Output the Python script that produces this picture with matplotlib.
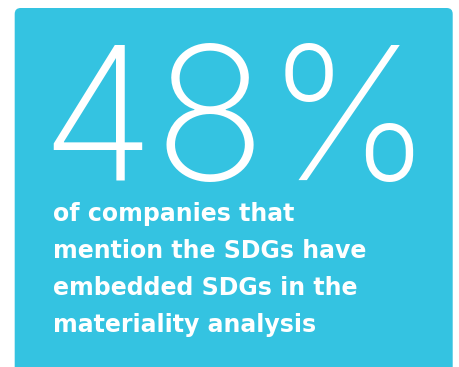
import matplotlib
matplotlib.use("Agg")
import matplotlib.pyplot as plt
from matplotlib.patches import FancyBboxPatch

value_text = "48%"
caption_lines = ["of companies that", "mention the SDGs have",
                 "embedded SDGs in the", "materiality analysis"]

W, H = 459, 367
fig = plt.figure(figsize=(W/100, H/100), dpi=100)
ax = fig.add_axes([0, 0, 1, 1])
ax.set_xlim(0, W)
ax.set_ylim(H, 0)
ax.axis("off")

bg = "#34C3E1"
box = FancyBboxPatch((14.7, 8), 438, 400, boxstyle="round,pad=0,rounding_size=6",
                     facecolor=bg, edgecolor="none")
ax.add_patch(box)

ax.text(40, 180, value_text, color="white", fontsize=134, family="Inter",
        fontweight=200, va="baseline", ha="left")

for i, line in enumerate(caption_lines):
    ax.text(53, 221 + 37*i, line, color="white", fontsize=17, family="DejaVu Sans",
            fontweight="bold", va="baseline", ha="left")

fig.savefig("out.png", dpi=100)
